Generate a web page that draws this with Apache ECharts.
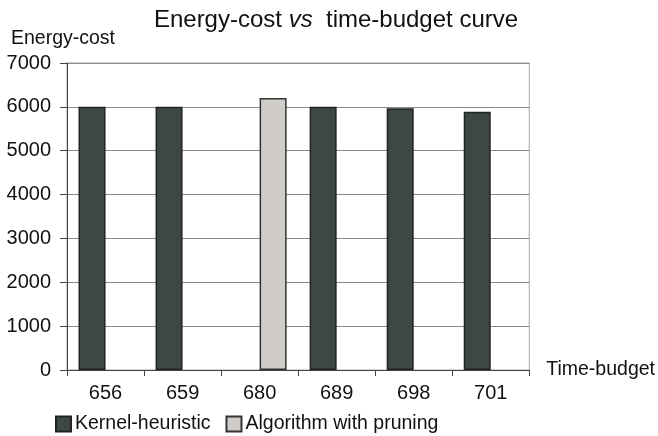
<!DOCTYPE html>
<html>
<head>
<meta charset="utf-8">
<script src="https://cdn.jsdelivr.net/npm/echarts@6/dist/echarts.min.js"></script>
<style>
  html, body { margin: 0; padding: 0; background: #fff; }
  #chart { width: 658px; height: 436px; }
</style>
</head>
<body>
<div id="chart"></div>
<script>
// Time budgets on the x axis
const timeBudgets = ['656', '659', '680', '689', '698', '701'];
// Energy cost for each method ('-' = no bar)
const kernelHeuristic = [6000, 6000, '-', 6000, 5970, 5890];
const algorithmWithPruning = ['-', '-', 6200, '-', '-', '-'];
// Y axis range
const yMin = 0, yMax = 7000, yStep = 1000;

const font = '"Liberation Sans", Arial, sans-serif';
const chart = echarts.init(document.getElementById('chart'), null, { renderer: 'canvas' });

chart.setOption({
  animation: false,
  backgroundColor: '#ffffff',
  textStyle: { fontFamily: font },
  title: [
    {
      text: '{a|Energy-cost }{i|vs}{a|  time-budget curve}',
      left: 331,
      textAlign: 'center',
      top: 3,
      textStyle: {
        rich: {
          a: { fontFamily: font, fontSize: 24, fontWeight: 'normal', color: '#111' },
          i: { fontFamily: font, fontSize: 24, fontWeight: 'normal', fontStyle: 'italic', color: '#111' }
        }
      }
    },
    {
      text: 'Energy-cost',
      left: 6,
      top: 24,
      textStyle: { fontFamily: font, fontSize: 19.5, fontWeight: 'normal', color: '#111' }
    }
  ],
  legend: {
    left: 50,
    top: 409,
    itemWidth: 15,
    itemHeight: 15,
    itemGap: 15,
    icon: 'rect',
    textStyle: { fontFamily: font, fontSize: 19.5, color: '#111', padding: [0, 0, 0, -1] },
    data: ['Kernel-heuristic', 'Algorithm with pruning']
  },
  grid: {
    left: 67, right: 128, top: 63, bottom: 66,
    show: true, borderColor: '#a8a8a8', borderWidth: 1
  },
  xAxis: {
    type: 'category',
    data: timeBudgets,
    name: 'Time-budget',
    nameLocation: 'end',
    nameGap: 17,
    nameTextStyle: { fontFamily: font, fontSize: 19.5, color: '#111', verticalAlign: 'middle' },
    axisLine: { lineStyle: { color: '#444', width: 1 } },
    axisTick: { show: true, length: 6, lineStyle: { color: '#444' } },
    axisLabel: { fontFamily: font, fontSize: 20, color: '#111', margin: 13 }
  },
  yAxis: {
    type: 'value',
    min: yMin, max: yMax, interval: yStep,
    axisLine: { show: true, lineStyle: { color: '#444', width: 1 } },
    axisTick: { show: true, length: 7, lineStyle: { color: '#444' } },
    axisLabel: { fontFamily: font, fontSize: 20, color: '#111', margin: 16, formatter: v => String(v) },
    splitLine: { show: true, lineStyle: { color: '#8a8a8a', width: 1 } }
  },
  series: [
    {
      name: 'Kernel-heuristic',
      type: 'bar',
      data: kernelHeuristic,
      barWidth: 27,
      barGap: '0%',
      itemStyle: { color: '#3c4845', borderColor: '#222', borderWidth: 1.5 }
    },
    {
      name: 'Algorithm with pruning',
      type: 'bar',
      data: algorithmWithPruning,
      barWidth: 27,
      barGap: '0%',
      itemStyle: { color: '#d0cdc8', borderColor: '#333', borderWidth: 1.5 }
    }
  ]
});
</script>
</body>
</html>
